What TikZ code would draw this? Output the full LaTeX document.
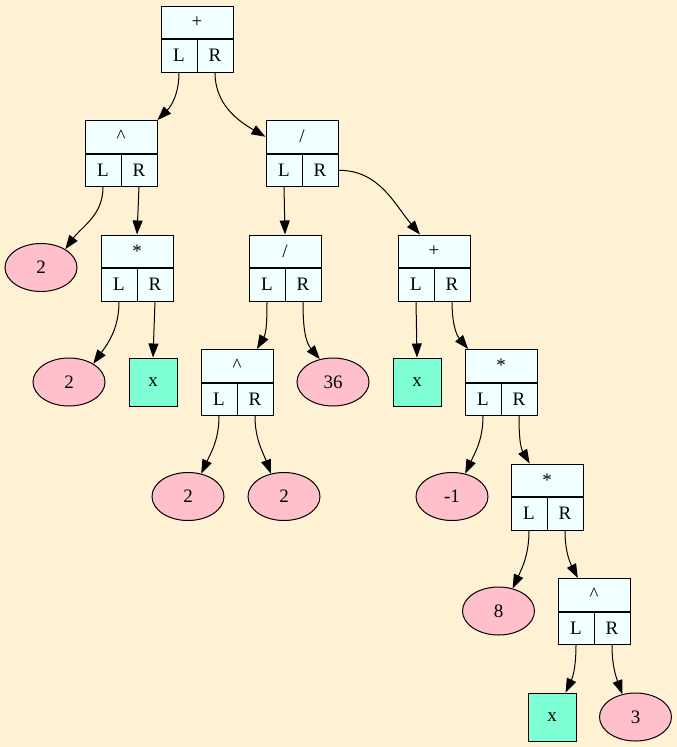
\documentclass[tikz,border=0pt]{standalone}
\usepackage{fontspec}
\setmainfont{Liberation Serif}
\usetikzlibrary{positioning,shapes,arrows.meta}
\definecolor{paper}{HTML}{FFF1D3}
\definecolor{azure}{HTML}{F0FFFF}
\definecolor{rose}{HTML}{FFC0CB}
\definecolor{aqua}{HTML}{7FFFD4}
\tikzstyle{head} = [rectangle, draw=black, fill=azure, line width=1pt, minimum width=72pt, minimum height=32.5pt, inner sep=0pt]
\tikzstyle{cell} = [rectangle, draw=black, fill=azure, line width=1pt, minimum width=36pt, minimum height=32.5pt, inner sep=0pt]
\tikzstyle{num} = [ellipse, draw=black, fill=rose, line width=1pt, minimum width=72pt, minimum height=48pt, inner sep=0pt]
\tikzstyle{var} = [rectangle, draw=black, fill=aqua, line width=1pt, minimum width=48pt, minimum height=48pt, inner sep=0pt]
\tikzstyle{arrow} = [line width=1pt, -{Triangle[length=14pt,width=10pt]}]

\begin{document}
\begin{tikzpicture}[x=1pt, y=-1pt, every node/.style={font=\fontsize{19}{22}\selectfont}]
                    \useasboundingbox (0, 0) rectangle (677, 747);
                    \fill[paper] (0, 0) rectangle (677, 747);
                    \node[head] (root) at (197, 22.25) {+};
                    \node[cell, below right=0pt of root.south west] (rootL) {L};
                    \node[cell, below left=0pt of root.south east] (rootR) {R};
                    \node[head] (pow1) at (121, 136.75) {\textasciicircum};
                    \node[cell, below right=0pt of pow1.south west] (pow1L) {L};
                    \node[cell, below left=0pt of pow1.south east] (pow1R) {R};
                    \node[head] (div1) at (302, 136.75) {/};
                    \node[cell, below right=0pt of div1.south west] (div1L) {L};
                    \node[cell, below left=0pt of div1.south east] (div1R) {R};
                    \node[num] (e2a) at (41, 267.5) {2};
                    \node[head] (mul1) at (137, 251.25) {*};
                    \node[cell, below right=0pt of mul1.south west] (mul1L) {L};
                    \node[cell, below left=0pt of mul1.south east] (mul1R) {R};
                    \node[head] (div2) at (285, 251.25) {/};
                    \node[cell, below right=0pt of div2.south west] (div2L) {L};
                    \node[cell, below left=0pt of div2.south east] (div2R) {R};
                    \node[head] (add2) at (434, 251.25) {+};
                    \node[cell, below right=0pt of add2.south west] (add2L) {L};
                    \node[cell, below left=0pt of add2.south east] (add2R) {R};
                    \node[num] (e2b) at (69, 382) {2};
                    \node[var] (ex1) at (153, 382) {x};
                    \node[head] (pow2) at (237, 365.75) {\textasciicircum};
                    \node[cell, below right=0pt of pow2.south west] (pow2L) {L};
                    \node[cell, below left=0pt of pow2.south east] (pow2R) {R};
                    \node[num] (e36) at (333, 382) {36};
                    \node[var] (ex2) at (417, 382) {x};
                    \node[head] (mul2) at (501, 365.75) {*};
                    \node[cell, below right=0pt of mul2.south west] (mul2L) {L};
                    \node[cell, below left=0pt of mul2.south east] (mul2R) {R};
                    \node[num] (e2c) at (188, 496.5) {2};
                    \node[num] (e2d) at (284, 496.5) {2};
                    \node[num] (em1) at (452, 496.5) {-1};
                    \node[head] (mul3) at (547, 480.25) {*};
                    \node[cell, below right=0pt of mul3.south west] (mul3L) {L};
                    \node[cell, below left=0pt of mul3.south east] (mul3R) {R};
                    \node[num] (e8) at (498.5, 611) {8};
                    \node[head] (pow3) at (594, 594.75) {\textasciicircum};
                    \node[cell, below right=0pt of pow3.south west] (pow3L) {L};
                    \node[cell, below left=0pt of pow3.south east] (pow3R) {R};
                    \node[var] (ex3) at (552, 717) {x};
                    \node[num] (e3) at (635.5, 717) {3};
                    \draw[arrow] (rootL.south) to[out=-90, in=45] (pow1.north east);
                    \draw[arrow] (rootR.south) to[out=-90, in=150] (div1.west);
                    \draw[arrow] (pow1L.south) to[out=-90, in=54] (e2a.37);
                    \draw[arrow] (pow1R.south) -- (mul1.north);
                    \draw[arrow] (mul1L.south) to[out=-90, in=54] (e2b.37);
                    \draw[arrow] (mul1R.south) -- (ex1.north);
                    \draw[arrow] (div1L.south) -- (div2.north);
                    \draw[arrow] (div1R.east) to[out=0, in=130] (add2.130);
                    \draw[arrow] (div2L.south) to[out=-90, in=60] (pow2.40);
                    \draw[arrow] (div2R.south) to[out=-90, in=130] (e36.120);
                    \draw[arrow] (add2L.south) -- (ex2.north);
                    \draw[arrow] (add2R.south) to[out=-90, in=130] (mul2.153);
                    \draw[arrow] (pow2L.south) to[out=-90, in=65] (e2c.60);
                    \draw[arrow] (pow2R.south) to[out=-90, in=110] (e2d.120);
                    \draw[arrow] (mul2L.south) to[out=-90, in=65] (em1.60);
                    \draw[arrow] (mul2R.south) to[out=-90, in=120] (mul3.136);
                    \draw[arrow] (mul3L.south) to[out=-90, in=65] (e8.58);
                    \draw[arrow] (mul3R.south) to[out=-90, in=117] (pow3.134);
                    \draw[arrow] (pow3L.south) to[out=-90, in=65] (ex3.61);
                    \draw[arrow] (pow3R.south) to[out=-90, in=110] (e3.120);
                \end{tikzpicture}
\end{document}
